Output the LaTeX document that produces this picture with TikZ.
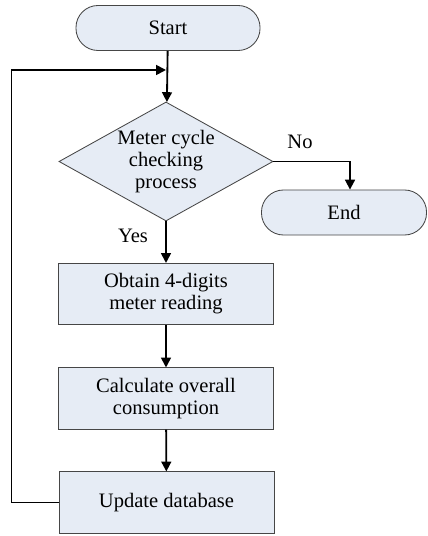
\documentclass[tikz,border=0pt]{standalone}
\usepackage{fontspec}
\setmainfont{Liberation Serif}
\usetikzlibrary{positioning, arrows.meta, shapes}
\definecolor{BoxFill}{RGB}{230,236,245}
\definecolor{BoxLine}{RGB}{70,70,70}

\begin{document}
\begin{tikzpicture}[x=0.025cm, y=-0.025cm]
        \tikzstyle{terminal} = [rectangle, draw=BoxLine, fill=BoxFill, line width=0.6pt,
          rounded corners=0.55cm, minimum height=1.125cm, align=center,
          font=\fontsize{14.6}{15.6}\selectfont]
        \tikzstyle{process} = [rectangle, draw=BoxLine, fill=BoxFill, line width=0.6pt,
          minimum width=5.375cm, minimum height=1.53cm, align=center,
          font=\fontsize{14.6}{15.6}\selectfont]
        \tikzstyle{decision} = [diamond, aspect=1.8, draw=BoxLine, fill=BoxFill, line width=0.6pt,
          minimum width=5.35cm, minimum height=2.975cm, inner sep=0pt, align=center,
          font=\fontsize{14.6}{15.6}\selectfont]
        \tikzstyle{arrow} = [draw=black, line width=1.3pt, -{Triangle[length=7pt, width=7pt]}]
        \tikzstyle{label} = [font=\fontsize{14.6}{15.6}\selectfont]

        \useasboundingbox (0,0) rectangle (427,536);

        \node[terminal, minimum width=4.6cm] (start) at (168, 28) {Start};
        \node[decision] (check) at (166, 161.5) {Meter cycle\\checking\\process};
        \node[terminal, minimum width=4.125cm] (stop) at (344, 212.5) {End};
        \node[process] (obtain) at (166, 294) {Obtain 4-digits\\meter reading};
        \node[process] (calc) at (166, 398.5) {Calculate overall\\consumption};
        \node[process] (update) at (166.5, 502.5) {Update database};

        \coordinate (merge) at (166, 70);

        \draw[arrow] (start) -- (check);
        \draw[arrow] (check.east) -| (stop.north -| 350, 0);
        \draw[arrow] (check) -- (obtain);
        \draw[arrow] (obtain) -- (calc);
        \draw[arrow] (calc) -- (update);
        \draw[arrow] (update.west) -- ++(-47, 0) |- (merge);

        \node[label] (yes) at (133, 236) {Yes};
        \node[label] (no) at (300, 142) {No};
      \end{tikzpicture}
\end{document}
